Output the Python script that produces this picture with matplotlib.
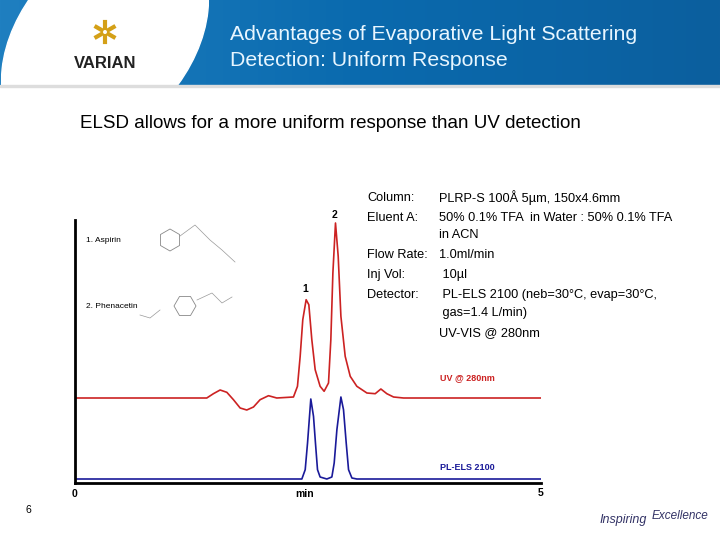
import matplotlib
matplotlib.use("Agg")
import matplotlib.pyplot as plt
import numpy as np
from matplotlib.patches import Ellipse, Rectangle, RegularPolygon

plt.rcParams['font.family'] = ['Liberation Sans', 'DejaVu Sans']

# UV trace (time in min, signal in arbitrary units)
uv_t = [0, 1.414, 1.485, 1.557, 1.629, 1.700, 1.772, 1.843, 1.915, 1.986, 2.076, 2.165, 2.344,
        2.387, 2.416, 2.444, 2.480, 2.509, 2.541, 2.577, 2.630, 2.673, 2.720, 2.745, 2.767, 2.795,
        2.824, 2.853, 2.899, 2.953, 3.024, 3.132, 3.221, 3.282, 3.346, 3.418, 3.525, 5.0]
uv_y = [85, 85, 89.3, 93, 90.7, 83.3, 75, 73, 76, 83.3, 87.3, 85, 86,
        96.7, 126.7, 163.3, 183.3, 178.3, 143.3, 113.3, 96.7, 91.7, 100, 143.3, 210, 260,
        226.7, 166.7, 126.7, 106.7, 96.7, 90, 89.3, 94, 89.3, 86, 85, 85]
# ELSD trace
els_t = [0, 2.434, 2.470, 2.495, 2.530, 2.559, 2.580, 2.602, 2.630, 2.702, 2.756, 2.781, 2.810,
         2.853, 2.881, 2.910, 2.935, 2.971, 3.024, 5.0]
els_y = [4, 4, 13.3, 40, 84, 66.7, 40, 13.3, 6, 4, 6, 20, 53.3,
         86, 73.3, 40, 13.3, 5, 4, 4]

title = ["Advantages of Evaporative Light Scattering", "Detection: Uniform Response"]
subtitle = "ELSD allows for a more uniform response than UV detection"
info_left = ["Column:", "Eluent A:", "", "Flow Rate:", "Inj Vol:", "Detector:", "", ""]
info_right = ["PLRP-S 100Å 5µm, 150x4.6mm", "50% 0.1% TFA  in Water : 50% 0.1% TFA", "in ACN",
              "1.0ml/min", " 10µl", " PL-ELS 2100 (neb=30°C, evap=30°C,", " gas=1.4 L/min)",
              "UV-VIS @ 280nm"]

fig = plt.figure(figsize=(7.2, 5.4), dpi=100)
W, H = 720, 540

bg = fig.add_axes([0, 0, 1, 1])
bg.set_xlim(0, W); bg.set_ylim(H, 0); bg.axis("off")
grad = np.linspace(0, 1, 256).reshape(1, -1)
bg.imshow(grad, extent=[0, W, 85, 0], cmap=matplotlib.colors.LinearSegmentedColormap.from_list(
    "b", ["#1f7fc0", "#0a6aae", "#0c5f9e"]), aspect="auto", zorder=0)
bg.add_patch(Ellipse((105, 40), 170, 250, angle=40, color="white", zorder=1))
bg.add_patch(Rectangle((0, 85), W, 2, color="#dddddd", zorder=1))
bg.set_xlim(0, W); bg.set_ylim(H, 0)
bg.text(105, 63, "VARIAN", fontsize=12, fontweight="bold", color="#222222", ha="center", va="center", zorder=2)
for ang in range(0, 360, 60):
    a = np.deg2rad(ang + 30)
    bg.plot([105 + 4*np.cos(a), 105 + 10*np.cos(a)], [32 + 4*np.sin(a), 32 + 10*np.sin(a)],
            color="#d4a017", lw=3, zorder=2)
bg.text(230, 35, title[0], fontsize=15.3, color="#e8f6ff", va="center", zorder=2)
bg.text(230, 60, title[1], fontsize=15.3, color="#e8f6ff", va="center", zorder=2)
bg.text(80, 124, subtitle, fontsize=13.5, color="black", va="center")

ys = [198, 218, 235, 255, 275, 295, 313, 333]
for l, r, y in zip(info_left, info_right, ys):
    bg.text(367, y, l, fontsize=9.2, va="center")
    bg.text(439, y, r, fontsize=9.2, va="center")

bg.text(86, 240, "1. Aspirin", fontsize=6, va="center")
bg.text(86, 307, "2. Phenacetin", fontsize=6, va="center")
for (cx, cy) in [(170, 240), (185, 306)]:
    bg.add_patch(RegularPolygon((cx, cy), 6, radius=11, fill=False, ec="#888888", lw=0.6, orientation=0 if cy < 300 else np.pi/6))
bg.plot([180, 195, 210, 222, 235], [236, 225, 240, 250, 262], color="#999999", lw=0.5)
bg.plot([197, 212, 222, 232], [300, 293, 303, 297], color="#999999", lw=0.5)
bg.plot([160, 150, 140], [310, 318, 315], color="#999999", lw=0.5)

bg.text(305, 289, "1", fontsize=7.5, fontweight="bold", ha="center", va="center")
bg.text(334, 215, "2", fontsize=7.5, fontweight="bold", ha="center", va="center")
bg.text(440, 378, "UV @ 280nm", fontsize=6.5, fontweight="bold", color="#cc2222", va="center")
bg.text(440, 468, "PL-ELS 2100", fontsize=6.5, fontweight="bold", color="#1a1a99", va="center")
bg.text(75, 494, "0", fontsize=7.5, fontweight="bold", ha="center", va="center")
bg.text(305, 494, "min", fontsize=7.5, fontweight="bold", ha="center", va="center")
bg.text(541, 493, "5", fontsize=7.5, fontweight="bold", ha="center", va="center")
bg.text(28, 510, "6", fontsize=7.5, ha="center", va="center")
bg.text(600, 520, "Inspiring", fontsize=9, style="italic", color="#333366", va="center")
bg.text(652, 516, "Excellence", fontsize=8.5, style="italic", color="#333366", va="center")

ax = fig.add_axes([75/W, 1 - 483/H, 466/W, (483 - 220)/H])
ax.plot(uv_t, uv_y, color="#cc2222", lw=1.2)
ax.plot(els_t, els_y, color="#1a1a99", lw=1.2)
ax.set_xlim(0, 5); ax.set_ylim(0, 263)
ax.patch.set_alpha(0)
for s in ["top", "right"]:
    ax.spines[s].set_visible(False)
ax.spines["left"].set_linewidth(2)
ax.spines["bottom"].set_linewidth(2)
ax.set_xticks([]); ax.set_yticks([])

fig.savefig("out.png", dpi=100)
